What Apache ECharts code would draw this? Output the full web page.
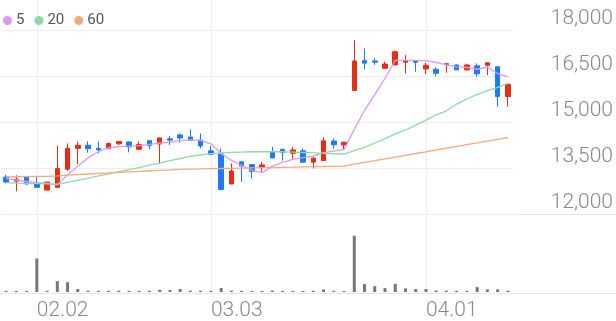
<!DOCTYPE html>
<html><head><meta charset="utf-8">
<style>html,body{margin:0;padding:0;background:#fff}#c{width:616px;height:321px}</style>
<script src="https://cdn.jsdelivr.net/npm/echarts/dist/echarts.min.js"></script>
</head><body><div id="c"></div>
<script>
const categories = ['01.28','01.29','01.30','02.02','02.03','02.04','02.05','02.06','02.09','02.10','02.11','02.12','02.13','02.19','02.20','02.23','02.24','02.25','02.26','02.27','03.03','03.04','03.05','03.06','03.09','03.10','03.11','03.12','03.13','03.16','03.17','03.18','03.19','03.20','03.23','03.24','03.25','03.26','03.27','03.30','03.31','04.01','04.02','04.03','04.06','04.07','04.08','04.09','04.10','04.13'];
const tickLabels = ['02.02','03.03','04.01'];
const yTicks = [12000,13500,15000,16500,18000];
const openVals  = [13200,13070,13220,13000,12780,12870,13460,14140,14240,14140,14130,14290,14350,14110,14390,14280,14450,14580,14510,14410,14060,13960,12980,13700,13610,13520,14020,14110,13980,14060,13690,13740,14380,14250,16030,17000,16990,16750,16860,16950,17000,16730,16720,16870,16860,16700,16830,16850,16800,15830];
const closeVals = [13040,13130,12980,12870,13040,13480,14140,14240,14130,14090,14300,14360,14190,14270,14240,14480,14410,14480,14400,14220,13950,12800,13400,13570,13390,13600,13830,14010,14090,13690,13820,14390,14260,14340,16990,16920,16950,16890,17290,17000,16950,16850,16590,16900,16700,16860,16570,16930,15830,16230];
const lowVals   = [13000,12740,12960,12860,12770,12840,13410,13630,14000,13980,14120,14250,14010,14100,14120,13650,14250,14330,14400,14140,13940,12790,12970,13050,13160,13380,13820,13740,13760,13680,13490,13730,14120,14110,16020,16720,16860,16740,16850,16590,16640,16560,16500,16610,16690,16680,16480,16530,15500,15500];
const highVals  = [13280,13260,13240,13220,13050,14220,14300,14370,14370,14370,14330,14370,14360,14370,14400,14490,14540,14630,14760,14630,14220,14140,13650,13710,13620,13700,14190,14120,14190,14140,13870,14500,14470,14350,17670,17400,17080,16970,17330,17180,17010,16930,16780,16930,16870,16900,16910,16940,16810,16240];
const ma5  = [13160,13100,13060,13020,13000,12950,13280,13560,13830,14030,14160,14200,14210,14230,14270,14310,14340,14400,14420,14400,14290,13970,13750,13590,13420,13350,13560,13680,13780,13840,13890,14000,14050,14100,14760,15380,15890,16420,17010,17010,17010,17000,16940,16860,16800,16780,16720,16790,16580,16480];
const ma20 = [13020,13010,13000,12990,12980,12970,13030,13100,13170,13240,13310,13380,13450,13510,13590,13660,13740,13810,13880,13930,13970,13990,14010,14020,14030,14030,14030,14030,14020,14005,13990,13975,13965,13956,14070,14170,14315,14460,14610,14740,14900,15060,15230,15365,15585,15750,15900,16025,16130,16260];
const ma60 = [13210,13215,13220,13225,13230,13240,13265,13285,13305,13325,13340,13360,13375,13390,13410,13425,13440,13457,13464,13470,13477,13483,13490,13496,13503,13510,13516,13523,13529,13536,13542,13549,13555,13562,13624,13682,13738,13796,13855,13914,13973,14028,14087,14146,14204,14263,14318,14377,14436,14494];
const volumes = [60000,55000,50000,1700000,60000,550000,500000,150000,70000,60000,60000,65000,60000,55000,60000,115000,100000,150000,70000,65000,60000,200000,70000,60000,55000,50000,75000,55000,50000,55000,60000,130000,60000,55000,2850000,400000,300000,200000,415000,180000,150000,150000,75000,70000,60000,60000,250000,135000,135000,70000];

const RED = '#e62e17', BLUE = '#1a7cf0';
const C5 = '#d99cf2', C20 = '#8fd9a6', C60 = '#f8a87e';
const font = 'Roboto, "Noto Sans", sans-serif';
const candleData = categories.map((c, i) => [openVals[i], closeVals[i], lowVals[i], highVals[i]]);
const showTick = (i, v) => tickLabels.indexOf(v) >= 0;
const gridLine = { color: '#eeeeee', width: 1 };

const chart = echarts.init(document.getElementById('c'));
chart.setOption({
  animation: false,
  legend: {
    data: ['5', '20', '60'], left: -2, top: 8, icon: 'circle', itemWidth: 9, itemHeight: 9, itemGap: 10,
    textStyle: { fontSize: 15, color: '#555', fontFamily: font, padding: [0, 0, 0, -1] }
  },
  grid: [
    { left: 1, width: 512, top: 0, height: 214 },
    { left: 1, width: 512, top: 214, height: 79 }
  ],
  xAxis: [
    { type: 'category', gridIndex: 0, data: categories, boundaryGap: true,
      axisLine: { show: false }, axisTick: { show: false }, axisLabel: { show: false },
      splitLine: { show: true, interval: showTick, alignWithLabel: true, lineStyle: gridLine } },
    { type: 'category', gridIndex: 1, data: categories, boundaryGap: true,
      axisLine: { show: false }, axisTick: { show: false },
      axisLabel: { show: true, interval: showTick, align: 'left', margin: 8, fontSize: 21, color: '#888',
        fontFamily: font, fontWeight: 300 },
      splitLine: { show: true, interval: showTick, alignWithLabel: true, lineStyle: gridLine } }
  ],
  yAxis: [
    { type: 'value', gridIndex: 0, position: 'right', min: 12000, max: 18978, interval: 1500, scale: true,
      axisLine: { show: false }, axisTick: { show: false },
      splitLine: { show: true, showMaxLine: false, lineStyle: gridLine },
      axisLabel: { showMaxLabel: false, formatter: v => yTicks.indexOf(v) >= 0 ? v.toLocaleString('en-US') : '',
        align: 'right', margin: 100, verticalAlign: 'bottom', lineHeight: 21, padding: [0, 0, 1, 0],
        fontSize: 21, color: '#888', fontFamily: font, fontWeight: 300 } },
    { type: 'value', gridIndex: 1, min: 0, max: 3950000, show: false, splitLine: { show: false } }
  ],
  graphic: [
    { type: 'line', shape: { x1: 0, y1: 214.5, x2: 616, y2: 214.5 }, style: { stroke: '#e6e6e6', lineWidth: 1 }, silent: true },
    { type: 'line', shape: { x1: 0, y1: 293.5, x2: 616, y2: 293.5 }, style: { stroke: '#e6e6e6', lineWidth: 1 }, silent: true }
  ],
  series: [
    { type: 'candlestick', xAxisIndex: 0, yAxisIndex: 0, data: candleData, barWidth: 5,
      itemStyle: { color: RED, color0: BLUE, borderColor: RED, borderColor0: BLUE, borderWidth: 1 } },
    { name: '5', type: 'line', xAxisIndex: 0, yAxisIndex: 0, data: ma5, symbol: 'none', color: C5,
      lineStyle: { color: C5, width: 1.3 }, z: 3 },
    { name: '20', type: 'line', xAxisIndex: 0, yAxisIndex: 0, data: ma20, symbol: 'none', color: C20,
      lineStyle: { color: C20, width: 1.3 }, z: 3 },
    { name: '60', type: 'line', xAxisIndex: 0, yAxisIndex: 0, data: ma60, symbol: 'none', color: C60,
      lineStyle: { color: C60, width: 1.3 }, z: 3 },
    { type: 'bar', xAxisIndex: 1, yAxisIndex: 1, data: volumes, barWidth: 3, itemStyle: { color: '#777777' } }
  ]
});
</script></body></html>
